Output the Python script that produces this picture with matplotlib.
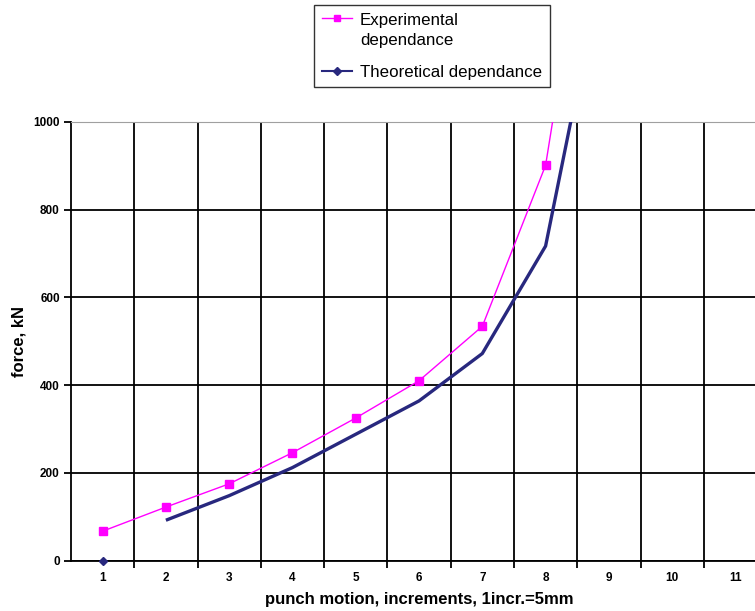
import matplotlib
matplotlib.use("Agg")
import matplotlib.pyplot as plt
from matplotlib.lines import Line2D

plt.rcParams["font.family"] = ["Liberation Sans", "DejaVu Sans"]

# punch increments (category axis) and measured / computed force, kN
increments = [1, 2, 3, 4, 5, 6, 7, 8, 9, 10, 11]
experimental = [67, 122, 175, 246, 325, 410, 534, 901, 1800]
theoretical_start = 0          # isolated point at increment 1
theoretical = [92, 148, 212, 288, 364, 472, 717, 1430]   # increments 2..9

MAGENTA = "#FF00FF"
NAVY = "#28287E"

fig = plt.figure(figsize=(7.55, 6.11), dpi=100)
ax = fig.add_axes([0.094, 0.0825, 0.922, 0.718])

ax.plot(increments[:len(experimental)], experimental, color=MAGENTA, lw=1.0,
        marker="s", ms=6, mec=MAGENTA, mfc=MAGENTA, zorder=4)
ax.plot(increments[1:1 + len(theoretical)], theoretical, color=NAVY, lw=2.4,
        solid_capstyle="butt", zorder=3)
ax.plot([increments[0]], [theoretical_start], color=NAVY, marker="D", ms=4,
        ls="none", zorder=5, clip_on=False)

ax.set_xlim(0.5, 11.5)
ax.set_ylim(0, 1000)

# category labels centred, gridlines between categories
ax.set_xticks(increments)
ax.set_xticklabels([str(i) for i in increments])
ax.set_xticks([i + 0.5 for i in increments], minor=True)
ax.tick_params(axis="x", which="major", length=0, pad=8)
ax.tick_params(axis="x", which="minor", length=5, width=1.3, color="black")
ax.set_yticks(range(0, 1001, 200))
ax.tick_params(axis="y", which="major", length=5, width=1.3, pad=3)
for lab in ax.get_xticklabels() + ax.get_yticklabels():
    lab.set_fontsize(8.5)
    lab.set_fontweight("bold")

ax.grid(True, axis="x", which="minor", color="black", lw=1.3)
ax.grid(True, axis="y", which="major", color="black", lw=1.3)
ax.yaxis.get_major_ticks()[-1].gridline.set_color("#a0a0a0")
ax.set_axisbelow(True)

ax.spines["right"].set_visible(False)
ax.spines["top"].set_color("#a0a0a0")
ax.spines["left"].set_linewidth(1.3)
ax.spines["bottom"].set_linewidth(1.3)

ax.set_xlabel("punch motion, increments, 1incr.=5mm", fontsize=12,
              fontweight="bold", labelpad=6)
ax.set_ylabel("force, kN", fontsize=12, fontweight="bold", labelpad=5)

handles = [
    Line2D([], [], color=MAGENTA, lw=1.0, marker="s", ms=5),
    Line2D([], [], color=NAVY, lw=1.5, marker="D", ms=4),
]
leg = fig.legend(handles, ["Experimental\ndependance", "Theoretical dependance"],
                 loc="upper center", bbox_to_anchor=(0.572, 0.992),
                 fontsize=12.2, frameon=True, fancybox=False, handlelength=1.8,
                 handletextpad=0.45, borderpad=0.45, labelspacing=1.0,
                 borderaxespad=0)
leg.get_frame().set_edgecolor("black")
leg.get_frame().set_linewidth(1.0)
leg.get_texts()[0].set_linespacing(1.45)
# put each legend key level with the first line of its label
for col in leg._legend_handle_box.get_children():
    for row in col.get_children():
        row.align = "top"

fig.savefig("out.png", dpi=100)
